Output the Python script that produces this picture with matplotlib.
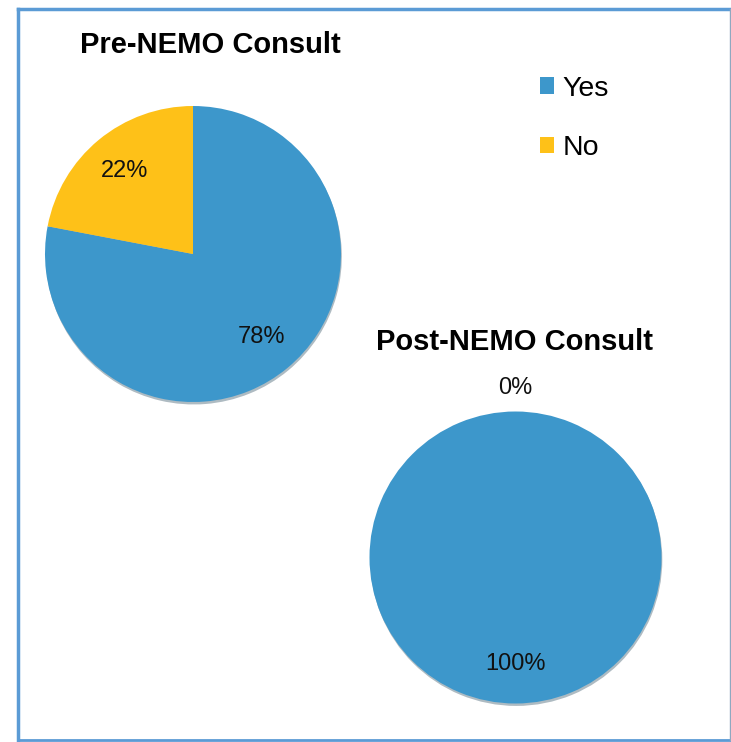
"""Pre/Post NEMO consult pie charts"""

import matplotlib

matplotlib.use("Agg")
import matplotlib.pyplot as plt
from matplotlib.lines import Line2D

plt.rcParams["font.family"] = ["Liberation Sans", "DejaVu Sans"]

# data
labels = ["Yes", "No"]
pre_values = [78, 22]
post_values = [100, 0]
titles = ["Pre-NEMO Consult", "Post-NEMO Consult"]
colors = ["#3D97CB", "#FEC118"]

W, H = 731, 742
fig = plt.figure(figsize=(W / 100, H / 100), dpi=100)
fig.patch.set_facecolor("white")


def px_axes(cx, cy, r):
    """ピクセル座標(中心・半径)から軸を作る"""
    return fig.add_axes([(cx - r) / W, (H - cy - r) / H, 2 * r / W, 2 * r / H])


def draw_pie(ax, values):
    wedges, _, autotexts = ax.pie(
        values,
        colors=colors,
        startangle=90,
        counterclock=False,
        autopct="%1.0f%%",
        pctdistance=0.73,
        radius=1.0,
        wedgeprops={"linewidth": 0},
        textprops={"fontsize": 17, "color": "#111111"},
        shadow={"ox": 0.004, "oy": -0.012, "shade": 0.6, "alpha": 0.35},
    )
    # 0% のラベルは外側に置く
    for v, t in zip(values, autotexts):
        if v == 0:
            t.set_position((0, 1.16))
    ax.set_xlim(-1.05, 1.05)
    ax.set_ylim(-1.05, 1.05)
    ax.set_aspect("equal")
    ax.axis("off")
    return wedges


ax1 = px_axes(193, 254, 148 * 1.05)
wedges = draw_pie(ax1, pre_values)

ax2 = px_axes(515.5, 557.5, 146 * 1.05)
draw_pie(ax2, post_values)

# titles
fig.text(210 / W, 1 - 45 / H, titles[0], fontsize=21, fontweight="bold",
         ha="center", va="center")
fig.text(515 / W, 1 - 342 / H, titles[1], fontsize=21, fontweight="bold",
         ha="center", va="center")

# legend
fig.legend(
    wedges,
    labels,
    loc="upper left",
    bbox_to_anchor=(514 / W, 1 - 50 / H),
    frameon=False,
    fontsize=20.5,
    handlelength=0.5,
    handleheight=0.5,
    handletextpad=0.3,
    labelspacing=1.18,
)

# frame
fig.add_artist(Line2D([18 / W, 18 / W], [1 - 9 / H, 1 - 740 / H], color="#5B9BD5", lw=2.5))
fig.add_artist(Line2D([18 / W, 730 / W], [1 - 9 / H, 1 - 9 / H], color="#5B9BD5", lw=2.5))
fig.add_artist(Line2D([18 / W, 730 / W], [1 - 740 / H, 1 - 740 / H], color="#5B9BD5", lw=2))
fig.add_artist(Line2D([730 / W, 730 / W], [1 - 9 / H, 1 - 740 / H], color="#8FA8C0", lw=1))

fig.savefig("out.png", dpi=100)
